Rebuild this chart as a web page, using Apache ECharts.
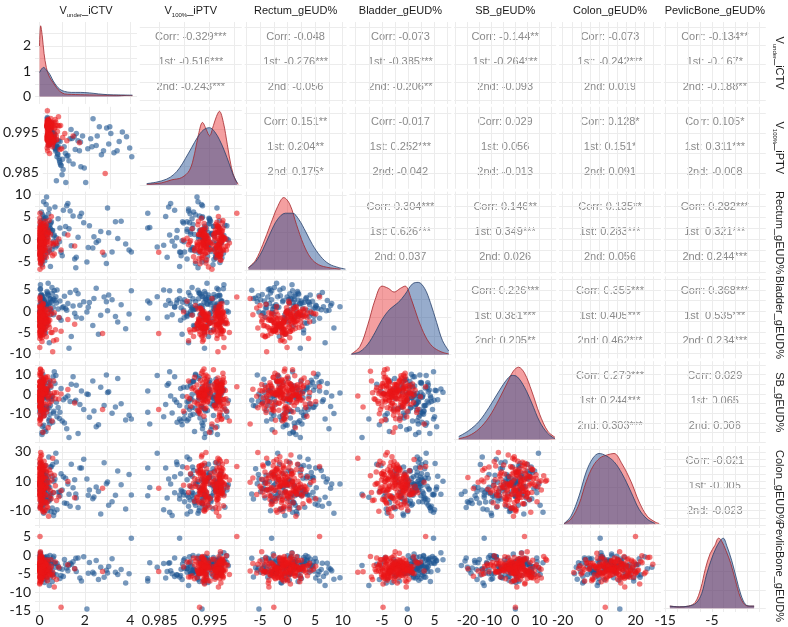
<!DOCTYPE html>
<html>
<head>
<meta charset="utf-8">
<title>pairs</title>
<script src="https://cdn.jsdelivr.net/npm/echarts@6/dist/echarts.min.js"></script>
<style>
html, body { margin: 0; padding: 0; background: #fff; }
#main { width: 788px; height: 627px; }
</style>
</head>
<body>
<div id="main"></div>
<script>
// 变量名（上方与右侧的标签）
var varNames = ['V_under_iCTV', 'V_100%_iPTV', 'Rectum_gEUD%', 'Bladder_gEUD%', 'SB_gEUD%', 'Colon_gEUD%', 'PevlicBone_gEUD%'];
// 带下标的变量名拆分
var nameSubs = {'V_under_iCTV' : ['V', 'under', '_iCTV'], 'V_100%_iPTV' : ['V', '100%', '_iPTV']};

// 坐标轴范围与刻度
var axisMin = [-0.2, 0.981, -7.8, -11.2, -25.5, -22, -15.3];
var axisMax = [4.3, 1.0015, 10.7, 8.2, 17, 34, 6.5];
var gridVals = [
	[0, 1, 2, 3, 4],
	[0.985, 0.99, 0.995, 1.0],
	[-7.5, -5, -2.5, 0, 2.5, 5, 7.5, 10],
	[-10, -7.5, -5, -2.5, 0, 2.5, 5, 7.5],
	[-25, -20, -15, -10, -5, 0, 5, 10, 15],
	[-20, -15, -10, -5, 0, 5, 10, 15, 20, 25, 30],
	[-15, -12.5, -10, -7.5, -5, -2.5, 0, 2.5, 5]
];
var xTickLabels = [[0, 2, 4], [0.985, 0.995], [-5, 0, 5, 10], [-5, 0, 5], [-20, -10, 0, 10], [-20, 0, 20], [-15, -5]];
var yTickLabels = [[0, 1, 2], [0.995, 0.985], [10, 5, 0, -5], [5, 0, -5, -10], [10, 0, -10], [30, 10, -10], [5, 0, -5, -10, -15]];
// 左上角密度图的纵轴
var densTopMin = -0.3, densTopMax = 2.95;
var densTopGrid = [0, 0.5, 1, 1.5, 2, 2.5];

// 相关系数文本
var corrAll = ['-0.329***', '-0.048', '-0.073', '-0.144**', '-0.073', '-0.134**',
	'0.151**', '-0.017', '0.029', '0.128*', '0.105*',
	'0.304***', '0.146**', '0.135**', '0.282***',
	'0.226***', '0.355***', '0.368***',
	'0.279***', '0.029',
	'-0.021'];
var corr1st = ['-0.516***', '-0.276***', '-0.385***', '-0.264***', '-0.242***', '-0.167*',
	'0.204**', '0.252***', '0.056', '0.151*', '0.311***',
	'0.626***', '0.349***', '0.283***', '0.321***',
	'0.381***', '0.405***', '0.535***',
	'0.244***', '0.065',
	'-0.005'];
var corr2nd = ['-0.243***', '-0.056', '-0.206**', '-0.093', '0.019', '-0.188**',
	'0.175*', '-0.042', '-0.013', '0.091', '-0.008',
	'0.037', '0.026', '0.056', '0.244***',
	'0.205**', '0.462***', '0.234***',
	'0.303***', '0.006',
	'-0.023'];

// 蓝色组观测值
var blueVunder = [0.02, 0.10, 0.05, 0.21, 0.33, 0.08, 0.15, 0.45, 0.03, 0.27,
	0.12, 0.60, 0.18, 0.07, 0.38, 0.24, 0.52, 0.04, 0.30, 0.14,
	0.09, 0.41, 0.22, 0.68, 0.01, 0.35, 0.17, 0.11, 0.48, 0.26,
	0.06, 0.19, 0.55, 0.13, 0.31, 0.72, 0.03, 0.23, 0.16, 0.43,
	0.08, 0.36, 0.62, 0.20, 0.05, 0.28, 0.12, 0.50, 0.34, 0.77,
	0.10, 0.25, 0.40, 0.02, 0.58, 0.15, 0.29, 0.65, 0.07, 0.46,
	0.82, 0.95, 1.10, 1.25, 1.40, 0.90, 1.55, 1.70, 1.85, 2.09,
	2.20, 2.35, 1.05, 2.50, 2.70, 2.85, 1.30, 3.00, 3.20, 3.45,
	3.60, 3.80, 4.05, 1.15, 1.62, 1.95, 2.60, 3.05, 3.95, 1.48,
	0.15, 0.42, 0.05, 0.88, 0.27, 1.35, 0.09, 0.63, 2.15, 0.33,
	0.19, 1.78, 0.04, 0.51, 2.95, 0.22, 0.74, 0.12, 1.20, 0.38,
	3.35, 0.07, 0.56, 1.00, 0.29, 2.40, 0.17, 0.47, 1.60, 0.11];
var bluePTV = [0.9962, 0.9948, 0.9931, 0.9975, 0.9940, 0.9918, 0.9957, 0.9830, 0.9968, 0.9935,
	0.9945, 0.9880, 0.9927, 0.9971, 0.9912, 0.9953, 0.9896, 0.9979, 0.9938, 0.9922,
	0.9959, 0.9905, 0.9947, 0.9868, 0.9985, 0.9929, 0.9951, 0.9966, 0.9890, 0.9940,
	0.9974, 0.9936, 0.9915, 0.9955, 0.9925, 0.9845, 0.9981, 0.9943, 0.9960, 0.9908,
	0.9965, 0.9932, 0.9875, 0.9950, 0.9972, 0.9920, 0.9957, 0.9898, 0.9939, 0.9858,
	0.9969, 0.9946, 0.9911, 0.9988, 0.9885, 0.9952, 0.9934, 0.9870, 0.9963, 0.9917,
	0.9915, 0.9892, 0.9935, 0.9872, 0.9948, 0.9826, 0.9905, 0.9942, 0.9826, 0.9935,
	0.9985, 0.9918, 0.9880, 0.9965, 0.9905, 0.9962, 0.9940, 0.9965, 0.9900, 0.9928,
	0.9952, 0.9940, 0.9890, 0.9958, 0.9865, 0.9910, 0.9895, 0.9948, 0.9912, 0.9930,
	0.9956, 0.9921, 0.9970, 0.9899, 0.9944, 0.9908, 0.9963, 0.9928, 0.9915, 0.9950,
	0.9937, 0.9862, 0.9978, 0.9912, 0.9922, 0.9958, 0.9884, 0.9967, 0.9936, 0.9945,
	0.9905, 0.9973, 0.9930, 0.9893, 0.9949, 0.9942, 0.9961, 0.9916, 0.9927, 0.9953];
var blueRectum = [-2.1, 3.4, 0.5, -4.2, 1.8, 6.1, -0.7, 2.6, -3.5, 4.8,
	0.2, -1.6, 8.4, -5.3, 1.1, -2.8, 3.9, 0.8, -0.3, 5.5,
	-4.6, 2.2, -1.2, 7.2, 0.0, -3.1, 4.3, 1.5, -6.2, 2.9,
	-0.9, 5.0, -2.4, 1.3, 9.5, -1.8, 3.1, -4.9, 0.6, 6.8,
	-3.3, 2.0, -0.5, 4.5, -2.6, 1.0, -5.8, 3.6, 0.3, -1.4,
	2.7, -3.9, 5.7, -0.2, 1.9, -2.2, 7.8, 0.9, -4.0, 3.3,
	4.6, -3.0, 1.2, 8.0, -1.5, 2.5, -4.5, 0.4, 5.8, -5.2,
	3.0, -2.0, 6.5, -0.8, 1.7, -3.6, 2.3, 7.0, -2.9, 0.1,
	4.0, -1.1, -2.9, 2.8, -4.1, 3.7, -0.4, 1.4, -2.5, 5.2,
	1.2, -2.7, 4.1, -0.6, 2.3, 6.3, -4.3, 0.7, -1.9, 3.5,
	-0.1, 5.1, -3.2, 1.6, -5.5, 2.9, 0.3, -1.3, 7.5, -2.0,
	3.9, -0.8, 1.9, -3.8, 4.7, 0.5, -2.3, 2.4, -6.5, 1.0];
var blueBladder = [1.5, 3.2, -0.8, 2.4, 4.6, 0.3, -2.5, 1.9, 5.1, -1.2,
	2.8, 0.9, -4.0, 3.6, 1.2, -0.3, 2.1, 6.2, -1.9, 0.6,
	3.9, 1.7, -3.1, 2.5, 0.0, 4.3, -0.6, 1.4, 3.0, -5.2,
	2.2, 0.8, 5.6, -1.5, 1.0, 3.4, -2.8, 2.7, 0.4, -7.5,
	1.8, 4.0, -0.9, 2.3, 1.1, -3.6, 3.1, 0.2, 2.0, 5.0,
	-1.1, 1.6, 3.7, -0.2, 2.6, -4.6, 1.3, 4.8, 0.7, 2.9,
	0.5, -2.2, 3.5, 1.8, -6.0, 2.4, -0.5, 4.1, -1.7, -0.2,
	2.0, -3.4, 1.0, 5.4, -1.0, 3.3, -8.8, 0.1, 2.7, -2.6,
	1.5, -4.2, 4.8, 0.6, -1.4, 2.2, -5.5, 3.8, -0.7, 1.2,
	2.6, 0.4, 3.8, -1.6, 1.7, 4.4, -0.4, 2.9, 0.9, -2.9,
	3.3, 1.4, 5.3, -0.1, 2.2, -4.4, 1.9, 3.6, 0.2, 6.6,
	-1.3, 2.5, 4.2, 0.8, -2.4, 3.0, 1.1, -0.9, 4.9, 2.0];
var blueSB = [-5.2, 3.1, -12.4, 0.8, -8.0, 6.5, -2.3, -15.6, 1.9, -6.8,
	-0.5, 8.9, -10.1, -3.7, 4.2, -18.5, -1.2, 2.6, -7.4, 10.3,
	-4.5, -13.8, 0.2, 5.4, -9.2, -2.0, 7.1, -21.0, -5.9, 1.4,
	-11.0, 3.8, -3.0, -16.8, 0.5, 9.6, -7.8, -1.6, 4.9, -13.0,
	-4.0, 2.1, -9.9, 6.0, -0.9, -19.4, -6.2, 3.5, -2.7, -11.8,
	1.0, -8.5, 5.8, -3.4, -14.6, 0.0, -6.5, 11.5, -1.9, -10.5,
	-7.0, 2.8, -15.0, -1.0, 5.0, -9.5, -4.0, -20.5, 1.5, 0.0,
	-12.0, 6.8, -3.0, -17.0, 3.5, -6.0, -22.5, 0.8, -10.0, 8.0,
	-5.0, -13.5, -13.0, -2.0, 4.5, -8.0, -16.0, 1.2, -11.0, 9.0,
	-1.5, -7.3, 4.6, -12.7, 0.4, -3.9, 7.7, -9.0, -0.3, 2.4,
	-16.2, -5.4, 1.7, -2.5, 9.8, -11.2, -4.3, 3.3, -18.0, 0.9,
	-6.7, 5.9, -1.1, -14.0, 2.0, -8.8, -0.7, 6.6, -3.2, -20.0];
var blueColon = [3.5, 12.1, -4.2, 8.6, 0.8, 17.3, -8.9, 5.7, 22.0, -1.5,
	10.4, 2.1, -12.0, 14.6, 6.3, -3.0, 19.8, 1.0, 9.2, -6.4,
	4.8, 26.5, -0.4, 11.5, 7.0, -10.2, 15.9, 3.0, -2.2, 20.7,
	5.9, -5.6, 13.3, 0.1, 8.0, 29.0, -7.8, 2.7, 16.8, -1.0,
	9.8, 4.1, -13.5, 12.8, 6.9, -4.8, 18.4, 0.5, 10.9, -9.5,
	3.2, 14.0, -2.8, 7.6, 21.3, -0.6, 5.2, -11.3, 9.0, 1.6,
	2.5, 15.0, -5.0, 8.0, 21.5, 0.0, 11.0, -8.0, 19.0, 11.4,
	4.0, -2.0, 13.0, 6.0, -12.5, 22.5, 1.0, 9.5, -4.0, 17.0,
	7.5, -9.0, 0.6, 12.0, -1.5, 25.0, 3.0, -6.5, 14.5, 5.5,
	7.2, -3.5, 11.9, 2.4, 16.0, -7.1, 5.0, 9.7, 0.4, 13.6,
	-1.9, 18.9, 4.4, -10.8, 8.3, 2.0, 23.0, 6.5, -5.2, 10.0,
	0.3, 15.2, -8.3, 3.9, 12.4, -0.9, 7.9, 19.7, 1.3, -4.0];
var bluePelvic = [-3.2, -1.5, -4.8, -2.6, -0.4, -3.9, -5.7, -2.1, -1.0, -4.3,
	-2.9, -0.8, -6.5, -3.5, -1.8, -4.9, -2.4, 0.6, -3.0, -5.2,
	-1.3, -3.7, -7.4, -2.2, -0.2, -4.5, -3.1, -1.6, -5.9, -2.7,
	-3.9, -0.9, -4.1, -2.0, -6.1, -3.3, -1.2, -4.6, -2.5, -8.2,
	-3.0, -1.9, -5.0, -2.8, 0.3, -4.0, -3.4, -1.4, -6.8, -2.3,
	-3.6, -0.6, -4.4, -2.9, -5.4, -1.7, -3.8, -2.1, -4.7, -0.1,
	-3.0, -5.5, -1.2, -4.2, -2.5, -6.3, -3.6, -0.8, -7.0, -14.5,
	-2.0, -4.6, -5.8, -1.5, -3.3, -6.0, -2.8, -4.8, -1.0, -5.2,
	-3.9, -7.5, 4.5, -2.4, -4.4, -0.5, -6.6, -3.1, -5.0, -1.8,
	-2.7, -4.4, -1.1, -3.6, -5.8, -2.2, -3.2, -0.3, -4.9, -2.6,
	-3.9, -6.2, -1.6, -3.0, -4.1, -0.7, -5.3, -2.4, -3.5, -1.3,
	-4.6, -2.9, -7.1, -3.8, -1.9, -5.0, -2.1, -4.3, -0.9, -3.3];

// 红色组观测值
var redVunder = [0.01, 0.05, 0.12, 0.03, 0.08, 0.22, 0.02, 0.15, 0.06, 0.30,
	0.04, 0.10, 0.01, 0.18, 0.07, 0.35, 0.02, 0.09, 0.13, 0.05,
	0.26, 0.03, 0.11, 0.42, 0.06, 0.01, 0.16, 0.08, 0.20, 0.04,
	0.55, 0.02, 0.12, 0.07, 0.28, 0.05, 0.01, 0.14, 0.38, 0.09,
	0.03, 0.19, 0.06, 0.65, 0.02, 0.11, 0.24, 0.04, 0.08, 0.32,
	0.01, 0.17, 0.05, 0.48, 0.10, 0.03, 0.21, 0.07, 0.02, 0.13,
	0.40, 0.06, 0.01, 0.27, 0.09, 0.04, 0.15, 0.75, 0.02, 0.11,
	0.05, 0.33, 0.08, 0.01, 0.18, 0.03, 0.58, 0.12, 0.06, 0.23,
	0.02, 0.09, 0.44, 0.04, 0.14, 0.01, 0.29, 0.07, 0.85, 0.10,
	0.03, 0.20, 0.05, 0.36, 0.02, 0.16, 0.08, 0.52, 0.04, 0.12,
	0.95, 2.78, 1.25, 0.02, 1.55, 0.06, 0.70, 0.01, 0.25, 0.04,
	0.03, 0.07, 0.01, 0.14, 0.05, 0.22, 0.02, 0.09, 0.31, 0.04,
	0.12, 0.01, 0.06, 0.18, 0.03, 0.26, 0.08, 0.02, 0.11, 0.45,
	0.05, 0.15, 0.01, 0.07, 0.34, 0.04, 0.10, 0.02, 0.20, 0.06,
	0.13, 0.03, 0.39, 0.08, 0.01, 0.17, 0.05, 0.24, 0.02, 0.09,
	0.62, 0.04, 0.12, 0.01, 0.28, 0.06, 0.16, 0.03, 0.50, 0.07];
var redPTV = [0.9972, 0.9938, 0.9965, 0.9941, 0.9975, 0.9930, 0.9968, 0.9945, 0.9978, 0.9935,
	0.9960, 0.9925, 0.9970, 0.9939, 0.9982, 0.9947, 0.9966, 0.9932, 0.9974, 0.9943,
	0.9915, 0.9969, 0.9936, 0.9977, 0.9952, 0.9940, 0.9971, 0.9928, 0.9964, 0.9937,
	0.9990, 0.9944, 0.9973, 0.9920, 0.9967, 0.9934, 0.9979, 0.9948, 0.9962, 0.9936,
	0.9905, 0.9971, 0.9942, 0.9968, 0.9931, 0.9976, 0.9939, 0.9958, 0.9973, 0.9926,
	0.9965, 0.9940, 0.9984, 0.9933, 0.9970, 0.9946, 0.9961, 0.9937, 0.9975, 0.9922,
	0.9969, 0.9943, 0.9912, 0.9972, 0.9935, 0.9966, 0.9950, 0.9938, 0.9980, 0.9929,
	0.9963, 0.9941, 0.9974, 0.9934, 0.9986, 0.9945, 0.9967, 0.9898, 0.9971, 0.9937,
	0.9955, 0.9976, 0.9932, 0.9969, 0.9940, 0.9973, 0.9927, 0.9964, 0.9948, 0.9978,
	0.9936, 0.9970, 0.9918, 0.9962, 0.9943, 0.9975, 0.9931, 0.9968, 0.9939, 0.9957,
	0.9930, 0.9848, 0.9942, 1.0005, 0.9925, 0.9976, 0.9910, 0.9966, 0.9934, 0.9972,
	0.9948, 0.9973, 0.9932, 0.9966, 0.9940, 0.9977, 0.9937, 0.9961, 0.9929, 0.9971,
	0.9944, 0.9968, 0.9935, 0.9974, 0.9951, 0.9920, 0.9963, 0.9938, 0.9979, 0.9942,
	0.9970, 0.9933, 0.9965, 0.9946, 0.9975, 0.9931, 0.9960, 0.9939, 0.9972, 0.9926,
	0.9967, 0.9941, 0.9983, 0.9936, 0.9969, 0.9944, 0.9974, 0.9928, 0.9962, 0.9937,
	0.9908, 0.9971, 0.9943, 0.9966, 0.9934, 0.9977, 0.9940, 0.9964, 0.9953, 0.9973];
var redRectum = [-1.5, 0.8, -3.2, 1.9, -0.4, -2.6, 2.7, -1.1, 0.3, -4.1,
	1.2, -0.8, -2.0, 3.5, -1.7, 0.0, -3.6, 1.6, -0.2, -5.4,
	2.3, -1.3, -0.6, 4.2, -2.4, 0.5, -3.9, 1.0, -1.9, 2.0,
	-0.9, -4.6, 0.7, -2.2, 3.0, -1.4, -0.1, -6.3, 1.4, -2.8,
	0.2, -1.0, 2.6, -3.4, -0.5, 1.8, -2.1, 0.9, -4.8, -1.2,
	3.8, -0.3, -2.5, 1.1, -1.6, -3.0, 0.4, 2.2, -0.7, -5.0,
	1.5, -1.8, -0.4, -3.3, 0.6, 2.9, -2.3, -1.0, 0.1, -4.4,
	1.3, -0.6, -2.7, 4.7, -1.5, 0.8, -3.8, -0.2, 2.4, -1.1,
	-6.8, 0.5, -2.0, 1.7, -0.9, -3.5, 3.2, -1.4, 0.0, -2.6,
	1.0, -0.8, -4.0, 2.1, -1.7, 0.3, -2.9, 5.1, -0.5, -1.3,
	-2.5, -3.0, 0.9, 5.8, -1.6, 3.6, -0.7, -2.2, 1.6, -4.7,
	-0.6, 1.4, -2.8, 0.2, -1.9, 2.5, -3.7, -0.1, 1.0, -2.2,
	0.6, -1.2, -4.5, 1.8, -0.7, -2.6, 3.3, -1.5, 0.4, -3.1,
	-0.3, 2.1, -1.8, -0.9, 0.9, -5.6, -2.4, 1.3, -0.2, -1.6,
	2.8, -3.4, 0.0, -1.1, 1.6, -2.0, -0.5, 4.0, -2.9, 0.7,
	-1.3, -3.9, 0.3, 2.3, -0.8, -2.3, 1.2, -4.2, -1.0, 0.5];
var redBladder = [-3.5, -0.8, -4.6, -1.2, -5.3, -2.0, 0.4, -3.9, -0.3, -6.1,
	-2.6, -4.2, 1.1, -1.5, -3.0, -0.6, -5.8, -2.3, 0.8, -4.0,
	-1.0, -3.3, -7.2, -0.2, -2.8, -4.8, 1.6, -1.8, -3.7, -0.5,
	-5.1, -2.1, 0.2, -4.4, -1.3, -3.1, -8.6, -0.9, -2.5, -4.1,
	2.3, -1.6, -3.6, -0.4, -5.5, -2.2, -0.1, -4.5, -1.1, -3.4,
	-6.5, -0.7, -2.7, 0.6, -3.8, -1.4, -4.9, -0.3, -2.4, 1.3,
	-3.2, -0.9, -5.0, -1.9, -4.3, 0.0, -2.9, -6.8, -1.2, -3.5,
	0.9, -2.0, -4.7, -0.6, -3.0, -1.7, -9.6, -0.2, -2.6, -4.2,
	3.0, -1.0, -3.9, -0.8, -5.6, -2.1, 0.5, -3.3, -1.5, -4.6,
	-0.4, -2.8, -6.0, -1.3, -3.7, 1.8, -2.3, -0.7, -4.0, -1.8,
	-4.8, -5.3, -2.0, 3.3, -3.1, -0.5, -4.4, -1.6, 0.3, -2.5,
	-2.4, -4.1, -0.9, -3.2, -5.0, -1.6, -3.7, 0.1, -2.0, -4.6,
	-1.3, -3.0, -5.7, -0.5, -2.7, -4.3, -1.0, -3.5, -6.3, -2.2,
	-0.3, -3.9, -1.8, -4.9, -2.6, 0.7, -3.3, -1.4, -5.4, -2.9,
	-0.8, -4.0, -2.1, -3.6, 1.0, -1.9, -4.4, -2.5, -0.6, -3.1,
	-7.0, -1.5, -3.8, -0.2, -2.8, -4.7, -1.1, -3.4, -5.1, -2.3];
var redSB = [1.2, -4.5, 5.8, -1.0, 3.3, -8.2, 0.4, 7.5, -2.9, 2.1,
	-6.0, 4.6, -0.3, -11.5, 1.8, 9.0, -3.8, 0.0, 5.2, -7.1,
	2.7, -1.8, 11.8, -5.0, 0.9, 3.9, -9.6, -0.7, 6.4, -2.2,
	-14.0, 1.5, 4.1, -4.1, 8.3, -0.5, -6.8, 2.4, -17.5, 3.0,
	-1.4, 6.9, -3.2, 0.6, -10.3, 4.8, -0.1, 12.6, -5.6, 1.1,
	-2.5, 7.8, -8.8, 0.3, 3.6, -4.3, 5.5, -1.7, -12.8, 2.0,
	-0.8, 9.8, -6.3, 1.4, -3.0, 4.4, -19.8, 0.7, 6.1, -2.0,
	3.1, -7.6, 0.1, 10.7, -4.8, 2.5, -1.1, -9.0, 5.0, -0.4,
	-15.5, 1.7, 7.0, -3.5, 0.2, 4.0, -5.3, 2.9, -2.6, 8.6,
	-0.6, -11.0, 3.4, -1.5, 6.6, -7.9, 0.8, -3.9, 13.0, 1.9,
	0.0, -8.0, 2.3, 3.8, -4.6, 6.0, -2.4, -13.6, 1.0, 4.9,
	-2.0, 4.3, -6.5, 1.6, -0.9, 7.2, -3.4, 2.2, -9.3, 0.5,
	5.1, -1.7, -4.9, 3.0, -0.4, 8.7, -7.0, 1.3, -2.8, 4.7,
	-11.8, 0.0, 6.3, -3.7, 2.6, -1.2, -5.8, 9.4, 1.0, -8.4,
	3.5, -0.6, -2.4, 5.7, -4.4, 1.9, -13.2, 0.8, 3.9, -1.4,
	6.8, -6.1, 0.3, -3.1, 2.9, 10.8, -0.2, -7.7, 4.1, -2.6];
var redColon = [6.2, 14.8, -2.5, 9.9, 3.1, 20.4, 0.7, 11.6, -6.8, 16.2,
	7.4, -0.9, 24.8, 4.5, 12.9, -4.1, 8.3, 18.0, 1.9, 29.5,
	5.6, -8.7, 13.7, 9.1, -1.8, 22.3, 3.8, 15.5, -11.2, 7.0,
	10.8, 2.6, 17.1, -3.7, 6.7, 26.7, 0.0, 12.2, 4.9, -5.5,
	19.2, 8.8, -0.2, 14.1, 2.3, 21.6, -9.8, 10.0, 5.3, 16.9,
	-2.9, 7.8, 23.5, 3.4, 11.1, -6.1, 13.2, 1.2, 18.7, 6.5,
	-13.9, 9.5, 15.0, 0.4, 27.8, 4.2, 12.5, -3.3, 8.1, 20.0,
	2.8, -7.4, 16.5, 10.3, 5.9, -1.2, 25.6, 7.2, 13.9, -4.6,
	9.3, 1.5, 17.8, 3.6, -10.5, 11.9, 6.0, 22.9, -0.6, 14.4,
	4.0, 19.6, 8.5, -8.1, 12.7, 2.0, 15.8, -2.0, 10.6, 7.5,
	3.4, 5.2, 9.7, 20.0, -1.4, 13.0, 6.9, 17.4, 0.9, 11.3,
	8.4, 2.6, 13.5, -1.1, 6.0, 17.9, 4.3, 10.2, -4.8, 14.6,
	1.8, 9.0, 21.1, 5.1, -7.9, 11.8, 3.0, 15.9, 7.7, -0.3,
	12.4, 4.6, 19.0, -2.6, 8.9, 0.9, 16.3, 6.3, 23.6, 10.9,
	-5.4, 3.7, 13.0, 7.1, 1.4, 18.5, 9.6, -3.5, 5.7, 14.9,
	2.2, 11.4, -9.2, 7.9, 20.6, 4.0, 12.0, 0.1, 15.3, 6.6];
var redPelvic = [-4.1, -2.6, -5.3, -3.4, -1.2, -4.7, -3.0, -6.2, -2.2, -4.4,
	-3.7, -0.9, -5.0, -2.9, -4.0, -6.9, -3.2, -1.8, -4.6, -2.5,
	-5.6, -3.5, -0.4, -4.2, -3.0, -7.8, -2.0, -4.9, -3.6, -1.5,
	-5.2, -2.7, -4.3, -6.4, -3.1, -0.7, -4.5, -2.3, -5.7, -3.8,
	-1.9, -4.8, -3.3, -8.6, -2.6, -4.0, -5.1, -1.1, -3.9, -6.0,
	-2.8, -4.4, -0.2, -3.6, -5.4, -2.1, -4.1, -7.2, -3.0, -1.6,
	-4.7, -3.4, -5.9, -2.4, -0.6, -4.2, -3.7, -6.6, -2.0, -4.9,
	-3.1, -1.3, -5.5, -3.8, -2.7, 0.5, -4.6, -3.2, -6.3, -2.2,
	-4.3, -1.0, -5.0, -3.5, -2.9, -7.5, -4.0, -1.7, -3.3, -5.8,
	-2.5, -4.5, -0.8, -3.9, -6.1, -2.3, -4.8, -3.0, -1.4, -5.2,
	-14.0, -4.4, -2.6, 5.0, -3.7, -5.6, -1.9, -4.1, -3.2, 0.9,
	-3.4, -4.9, -2.3, -5.6, -3.8, -1.4, -4.4, -6.5, -2.9, -3.6,
	-5.1, -2.0, -4.2, -3.1, -7.0, -2.6, -4.6, -1.0, -3.9, -5.3,
	-2.4, -4.0, -6.0, -3.3, -1.8, -4.8, -3.0, -5.5, -2.1, -4.3,
	-3.7, -6.8, -2.7, -4.5, -0.5, -3.5, -5.0, -2.2, -4.1, -3.2,
	-5.9, -1.6, -4.7, -3.9, -2.5, -6.2, -3.1, -4.4, -1.3, -3.8];

var blueData = [blueVunder, bluePTV, blueRectum, blueBladder, blueSB, blueColon, bluePelvic];
var redData = [redVunder, redPTV, redRectum, redBladder, redSB, redColon, redPelvic];

// 对角线密度曲线（第1个为真实密度，其余为相对高度）
var densRedX = [
	[0, 0.05, 0.12, 0.2, 0.3, 0.4, 0.5, 0.6, 0.75, 0.9, 1.1, 1.4, 1.8, 2.2, 2.8, 3.4, 4.1],
	[0.9824, 0.9854, 0.9874, 0.9894, 0.9910, 0.9920, 0.9928, 0.9936, 0.9944, 0.9950, 0.9958, 0.9964, 0.9970, 0.9978, 0.9986, 0.9994, 1.0002, 1.0008],
	[-7.1, -5.8, -4.5, -3.1, -1.8, -0.7, 0.4, 1.6, 2.9, 4.2, 5.6, 7.5, 9.6],
	[-10.8, -9.2, -7.7, -6.3, -5.0, -3.8, -2.7, -1.5, -0.6, 0.6, 1.9, 3.3, 4.6, 6.2, 7.7],
	[-23.6, -19.4, -15.2, -11.0, -6.8, -3.4, -0.8, 1.3, 3.8, 6.8, 10.1, 13.5, 16.5],
	[-19.2, -15.4, -11.0, -7.1, -3.3, 0.5, 4.4, 8.2, 12.6, 17.6, 22, 26.4, 30.8, 33],
	[-14, -12, -10, -8.6, -7.4, -6.4, -5.4, -4.4, -3.6, -3.0, -2.0, -1.0, 0.0, 1.0, 2.0, 3.0, 4.0]
];
var densRedY = [
	[2.0, 2.8, 2.4, 1.7, 1.15, 0.85, 0.68, 0.55, 0.35, 0.2, 0.1, 0.08, 0.07, 0.06, 0.05, 0.04, 0.03],
	[0.01, 0.03, 0.07, 0.1, 0.2, 0.42, 0.68, 0.84, 0.74, 0.66, 0.8, 0.92, 0.99, 0.84, 0.54, 0.24, 0.07, 0.01],
	[0.03, 0.13, 0.34, 0.61, 0.85, 0.97, 0.88, 0.61, 0.34, 0.16, 0.07, 0.03, 0.01],
	[0.01, 0.11, 0.4, 0.74, 0.92, 0.89, 0.84, 0.89, 0.92, 0.74, 0.47, 0.24, 0.11, 0.04, 0.01],
	[0.01, 0.05, 0.14, 0.3, 0.54, 0.76, 0.92, 0.97, 0.89, 0.65, 0.34, 0.11, 0.03],
	[0.01, 0.07, 0.27, 0.57, 0.78, 0.89, 0.93, 0.95, 0.81, 0.57, 0.3, 0.11, 0.03, 0.01],
	[0.03, 0.02, 0.03, 0.08, 0.27, 0.54, 0.74, 0.85, 0.95, 0.92, 0.78, 0.61, 0.38, 0.16, 0.05, 0.03, 0.03]
];
var densBlueX = [
	[0, 0.1, 0.18, 0.3, 0.4, 0.5, 0.6, 0.75, 0.9, 1.1, 1.4, 1.8, 2.2, 2.6, 3.0, 3.5, 4.1],
	[0.9824, 0.9844, 0.9864, 0.9878, 0.9890, 0.9902, 0.9914, 0.9926, 0.9938, 0.9950, 0.9960, 0.9970, 0.9980, 0.9990, 0.9998, 1.0006],
	[-7.1, -5.8, -4.5, -3.1, -1.8, -0.4, 0.9, 2.0, 3.3, 4.5, 6.0, 7.5, 9.3, 10.5],
	[-10.8, -9.2, -7.7, -6.3, -5.0, -3.5, -1.9, -0.6, 0.8, 1.9, 3.1, 4.2, 5.4, 6.5, 7.7],
	[-23.6, -19.4, -15.2, -11.0, -6.8, -3.4, -1.3, 0.8, 3.8, 6.8, 10.1, 13.5, 16.5],
	[-19.2, -15.4, -11.0, -7.1, -3.3, 0, 3.8, 8.2, 12.6, 17.6, 22, 26.4, 30.8],
	[-14, -12, -10, -8.4, -7.2, -6.2, -5.2, -4.2, -3.2, -2.6, -1.8, -0.8, 0.2, 1.2, 2.2, 3.2, 4.0]
];
var densBlueY = [
	[0.95, 1.1, 1.15, 1.05, 0.95, 0.8, 0.62, 0.42, 0.28, 0.2, 0.16, 0.16, 0.14, 0.1, 0.07, 0.06, 0.05],
	[0.02, 0.04, 0.08, 0.14, 0.23, 0.36, 0.5, 0.64, 0.74, 0.77, 0.72, 0.61, 0.46, 0.28, 0.13, 0.03],
	[0.03, 0.11, 0.27, 0.5, 0.68, 0.76, 0.76, 0.68, 0.51, 0.34, 0.18, 0.08, 0.03, 0.01],
	[0.01, 0.04, 0.14, 0.3, 0.47, 0.61, 0.7, 0.81, 0.95, 0.97, 0.89, 0.7, 0.43, 0.19, 0.05],
	[0.04, 0.12, 0.24, 0.43, 0.65, 0.81, 0.86, 0.84, 0.7, 0.49, 0.24, 0.08, 0.01],
	[0.01, 0.11, 0.38, 0.7, 0.89, 0.95, 0.92, 0.84, 0.68, 0.43, 0.2, 0.07, 0.01],
	[0.03, 0.02, 0.03, 0.07, 0.2, 0.45, 0.65, 0.81, 0.92, 0.95, 0.84, 0.65, 0.41, 0.18, 0.05, 0.03, 0.03]
];

// 面板布局
var PL = 35, PT = 22, PW = 102, PH = 82, GAP = 2.8;
var FONT = 'Liberation Sans';
var BLUE_PT = 'rgba(30,85,145,0.75)', RED_PT = 'rgba(235,20,22,0.72)';

// 量文字宽度用的画布
var measureCtx = document.createElement('canvas').getContext('2d');

function cellLeft(c) {
	return PL + c * (PW + GAP);
}
function cellTop(r) {
	return PT + r * (PH + GAP);
}

function zip(xs, ys) {
	var out = [];
	for (var i = 0; i < xs.length; i++) {
		out.push([xs[i], ys[i]]);
	}
	return out;
}

function textWidth(str, size) {
	measureCtx.font = size + 'px ' + FONT;
	return measureCtx.measureText(str).width;
}

// 生成一个坐标轴
function makeAxis(k, min, max, lines, labels, showLabel, isY) {
	return {
		type : 'value',
		gridIndex : k,
		min : min,
		max : max,
		axisLine : {show : false},
		axisTick : {show : false, customValues : lines},
		splitLine : {show : true, lineStyle : {color : '#ececec', width : 1}},
		axisLabel : {
			show : showLabel,
			customValues : labels,
			color : '#1a1a1a',
			fontFamily : 'Lato',
			fontSize : 14,
			margin : isY ? 4 : 1
		}
	};
}

// 变量名标签（带下标的拆成三段）
function nameLabel(name, x, y, rot) {
	var parts = nameSubs[name];
	var children = [];
	if (!parts) {
		children.push({type : 'text', x : 0, y : 0,
			style : {text : name, font : '11px ' + FONT, fill : '#1a1a1a', align : 'center', verticalAlign : 'middle'}});
	} else {
		var w0 = textWidth(parts[0], 11), w1 = textWidth(parts[1], 6), w2 = textWidth(parts[2], 11);
		var x0 = -(w0 + w1 + w2) / 2;
		children.push({type : 'text', x : x0, y : 0,
			style : {text : parts[0], font : '11px ' + FONT, fill : '#1a1a1a', align : 'left', verticalAlign : 'middle'}});
		children.push({type : 'text', x : x0 + w0, y : 4,
			style : {text : parts[1], font : '6px ' + FONT, fill : '#1a1a1a', align : 'left', verticalAlign : 'middle'}});
		children.push({type : 'text', x : x0 + w0 + w1, y : 0,
			style : {text : parts[2], font : '11px ' + FONT, fill : '#1a1a1a', align : 'left', verticalAlign : 'middle'}});
	}
	return {type : 'group', x : x, y : y, rotation : rot, silent : true, children : children};
}

function initChart() {
	var grids = [], xAxes = [], yAxes = [], series = [], graphics = [];
	var t = 0;
	for (var r = 0; r < 7; r++) {
		for (var c = 0; c < 7; c++) {
			var k = r * 7 + c;
			grids.push({left : cellLeft(c), top : cellTop(r), width : PW, height : PH});
			xAxes.push(makeAxis(k, axisMin[c], axisMax[c], gridVals[c], xTickLabels[c], r === 6, false));
			if (r === c) {
				if (r === 0) {
					yAxes.push(makeAxis(k, densTopMin, densTopMax, densTopGrid, yTickLabels[0], true, true));
				} else {
					yAxes.push(makeAxis(k, -0.05, 1.05, [0, 0.25, 0.5, 0.75, 1], [], false, true));
				}
				// 密度图：红色在下，蓝色在上
				series.push({
					type : 'line', xAxisIndex : k, yAxisIndex : k, smooth : 0.35, symbol : 'none', silent : true,
					data : zip(densRedX[r], densRedY[r]),
					lineStyle : {color : '#a3262b', width : 0.8},
					areaStyle : {color : 'rgba(228,26,28,0.6)', origin : 0}
				});
				series.push({
					type : 'line', xAxisIndex : k, yAxisIndex : k, smooth : 0.35, symbol : 'none', silent : true,
					data : zip(densBlueX[r], densBlueY[r]),
					lineStyle : {color : '#27406b', width : 0.8},
					areaStyle : {color : 'rgba(30,75,145,0.66)', origin : 0}
				});
			} else {
				yAxes.push(makeAxis(k, axisMin[r], axisMax[r], gridVals[r], yTickLabels[r], c === 0, true));
			}
			if (r > c) {
				series.push({
					type : 'scatter', xAxisIndex : k, yAxisIndex : k, symbolSize : 5.5, silent : true,
					data : zip(blueData[c], blueData[r]),
					itemStyle : {color : BLUE_PT}
				});
				series.push({
					type : 'scatter', xAxisIndex : k, yAxisIndex : k, symbolSize : 5.5, silent : true,
					data : zip(redData[c], redData[r]),
					itemStyle : {color : RED_PT}
				});
			}
			if (c > r) {
				var cx = cellLeft(c) + PW / 2, cy = cellTop(r) + PH / 2;
				var lines = ['Corr: ' + corrAll[t], '1st: ' + corr1st[t], '2nd: ' + corr2nd[t]];
				for (var li = 0; li < 3; li++) {
					graphics.push({
						type : 'text', x : cx, y : cy + (li - 1) * 25 - 1, silent : true,
						style : {text : lines[li], fill : '#8a8a8a', font : '11px ' + FONT, align : 'center', verticalAlign : 'middle'}
					});
				}
				t++;
			}
		}
	}
	// 上方和右侧的变量标签
	for (var i = 0; i < 7; i++) {
		graphics.push(nameLabel(varNames[i], cellLeft(i) + PW / 2, 11, 0));
		graphics.push(nameLabel(varNames[i], 779, cellTop(i) + PH / 2, -Math.PI / 2));
	}

	var myChart = echarts.init(document.getElementById('main'), null, {renderer : 'canvas'});
	myChart.setOption({
		animation : false,
		backgroundColor : '#ffffff',
		grid : grids,
		xAxis : xAxes,
		yAxis : yAxes,
		series : series,
		graphic : graphics
	});
}

initChart();
</script>
</body>
</html>
